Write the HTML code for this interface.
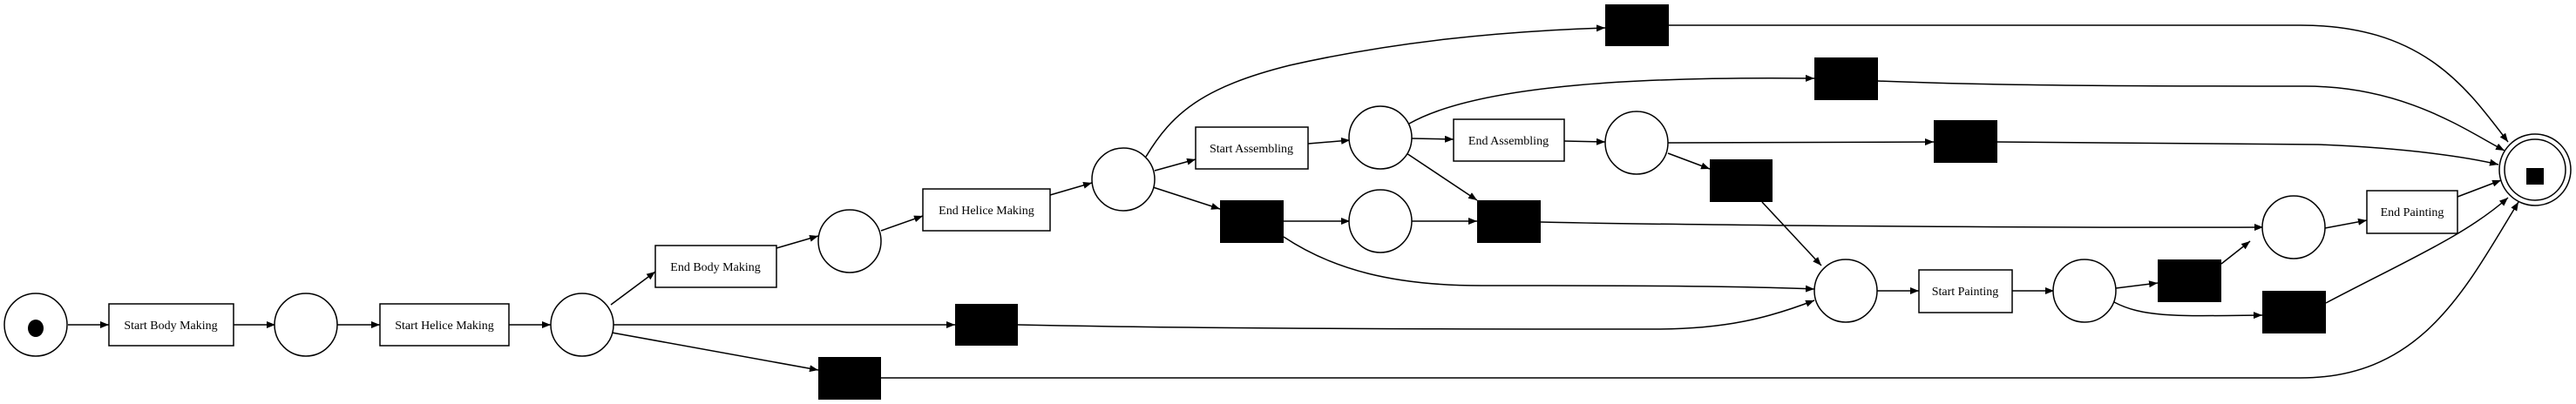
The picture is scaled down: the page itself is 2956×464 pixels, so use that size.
<!DOCTYPE html>
<html><head><meta charset="utf-8"><style>
html,body{margin:0;padding:0;background:#fff;}
svg{display:block;}
text{font-family:"Liberation Serif",serif;font-size:14px;fill:#000;}
</style></head><body>
<svg width="2956" height="464" viewBox="0 0 2956 464" xmlns="http://www.w3.org/2000/svg">
<defs><marker id="a" markerWidth="10" markerHeight="8" refX="10" refY="4" orient="auto" markerUnits="userSpaceOnUse"><path d="M0,0 L10,4 L0,8 z" fill="#000"/></marker></defs>
<g fill="none" stroke="#000" stroke-width="1.5" marker-end="url(#a)">
<path d="M78,373 L125,373"/>
<path d="M268,373 L316,373"/>
<path d="M387,373 L436,373"/>
<path d="M584,373 L632,373"/>
<path d="M701,350 L752,312"/>
<path d="M891,285 L939,271"/>
<path d="M704,373 L1096,373"/>
<path d="M702,382 L939,425"/>
<path d="M1011,434 L2640,434 C2780,434 2830,330 2890,232"/>
<path d="M1011,265 L1059,248"/>
<path d="M1205,224 L1253,210"/>
<path d="M1325,196 L1372,183"/>
<path d="M1315,180 C1345,130 1380,100 1480,75 C1600,48 1720,36 1842,32"/>
<path d="M1323,215 L1400,240"/>
<path d="M1501,165 L1549,161"/>
<path d="M1620,159 L1668,160"/>
<path d="M1614,176 L1695,230"/>
<path d="M1473,254 L1549,254"/>
<path d="M1620,254 L1695,254"/>
<path d="M1617,142 C1700,95 1900,88 2082,90"/>
<path d="M1795,162 L1842,163"/>
<path d="M1914,164 L2219,163"/>
<path d="M1914,176 L1962,194"/>
<path d="M2022,232 L2090,305"/>
<path d="M1768,255 C1900,258 2300,262 2597,261"/>
<path d="M1168,373 C1400,378 1700,378 1900,378 C1980,378 2030,365 2082,345"/>
<path d="M1473,272 C1530,310 1600,328 1700,328 C1850,328 1980,328 2082,332"/>
<path d="M2154,334 L2202,334"/>
<path d="M2309,334 L2357,334"/>
<path d="M2428,331 L2476,325"/>
<path d="M2426,347 C2460,365 2500,363 2596,362"/>
<path d="M2549,303 L2582,277"/>
<path d="M2668,262 L2716,253"/>
<path d="M2820,226 L2870,207"/>
<path d="M2669,348 C2760,300 2830,270 2878,227"/>
<path d="M1915,29 L2640,29 C2780,29 2830,100 2878,163"/>
<path d="M2155,93 C2300,99 2500,99 2645,99 C2760,99 2830,150 2874,173"/>
<path d="M2292,163 C2500,165 2600,166 2660,166 C2760,170 2830,180 2867,189"/>
</g>
<g fill="#fff" stroke="#000" stroke-width="1.5">
<ellipse cx="41" cy="373" rx="36" ry="36"/>
<ellipse cx="351" cy="373" rx="36" ry="36"/>
<ellipse cx="668" cy="373" rx="36" ry="36"/>
<ellipse cx="975" cy="277" rx="36" ry="36"/>
<ellipse cx="1289" cy="206" rx="36" ry="36"/>
<ellipse cx="1584" cy="158" rx="36" ry="36"/>
<ellipse cx="1584" cy="254" rx="36" ry="36"/>
<ellipse cx="1878" cy="164" rx="36" ry="36"/>
<ellipse cx="2118" cy="334" rx="36" ry="36"/>
<ellipse cx="2392" cy="334" rx="36" ry="36"/>
<ellipse cx="2632" cy="261" rx="36" ry="36"/>
<circle cx="2909" cy="195" r="41"/>
<circle cx="2909" cy="195" r="35"/>
<rect x="125" y="349" width="143" height="48"/>
<rect x="436" y="349" width="148" height="48"/>
<rect x="752" y="282" width="139" height="48"/>
<rect x="1059" y="217" width="146" height="48"/>
<rect x="1372" y="146" width="129" height="48"/>
<rect x="1668" y="137" width="127" height="48"/>
<rect x="2202" y="310" width="107" height="49"/>
<rect x="2716" y="219" width="104" height="49"/>
</g>
<g fill="#000">
<ellipse cx="41" cy="377" rx="9" ry="10"/>
<rect x="2899" y="193" width="20" height="19"/>
<rect x="939" y="410" width="72" height="49"/>
<rect x="1096" y="349" width="72" height="48"/>
<rect x="1400" y="230" width="73" height="49"/>
<rect x="1695" y="230" width="73" height="49"/>
<rect x="1842" y="5" width="73" height="48"/>
<rect x="1962" y="183" width="72" height="49"/>
<rect x="2082" y="66" width="73" height="49"/>
<rect x="2219" y="138" width="73" height="49"/>
<rect x="2476" y="298" width="73" height="49"/>
<rect x="2596" y="334" width="73" height="49"/>
</g>
<g text-anchor="middle">
<text x="196" y="378">Start Body Making</text>
<text x="510" y="378">Start Helice Making</text>
<text x="821" y="311">End Body Making</text>
<text x="1132" y="246">End Helice Making</text>
<text x="1436" y="175">Start Assembling</text>
<text x="1731" y="166">End Assembling</text>
<text x="2255" y="339">Start Painting</text>
<text x="2768" y="248">End Painting</text>
</g>
</svg>
</body></html>
